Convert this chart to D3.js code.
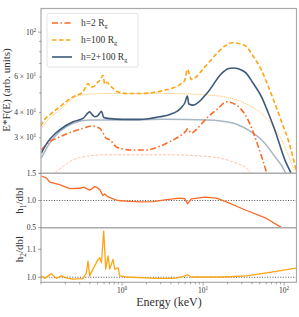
<!DOCTYPE html>
<html>
<head>
<meta charset="utf-8">
<script src="https://cdn.jsdelivr.net/npm/d3@7"></script>
<style>
  body { margin: 0; background: #fff; }
  svg { font-family: "Liberation Serif", "DejaVu Serif", serif; }
</style>
</head>
<body>
<div id="chart"></div>
<script>
// spectra: [energy keV, E*F(E)]
const h2 = [[0.101,26.1],[0.128,28.7],[0.155,29.8],[0.248,32.2],[0.33,33.4],[0.419,34.3],[0.531,33.4],
  [0.642,29.8],[0.705,29.3],[0.853,27.0],[1.03,26.4],[1.245,26.1],[2.0,26.1],[2.92,27.2],[3.88,28.7],
  [5.41,31.0],[6.2,32.6],[6.4,33.2],[7.2,31.6],[8.0,32.6],[11.5,38.1],[15.3,41.9],[19.4,45.2],
  [25.8,43.5],[35.9,36.7],[47.8,27.2],[60.7,20.05],[70.5,15.7]];
const h100 = [[0.1,34.3],[0.106,36.0],[0.128,38.9],[0.17,42.7],[0.248,47.8],[0.33,50.6],[0.38,55.7],
  [0.411,53.6],[0.438,53.6],[0.506,56.7],[0.546,58.5],[0.582,61.2],[0.611,55.3],[0.647,56.5],[0.705,54.6],
  [0.768,52.9],[0.853,51.0],[0.937,50.3],[1.13,49.7],[1.65,49.7],[3.37,51.6],[5.41,55.7],[5.94,57.8],
  [6.4,65.4],[7.19,58.3],[10.5,67.3],[15.3,79.7],[19.1,86.0],[22.9,88.7],[32.7,86.0],[41.1,76.4],
  [52.6,64.7],[63.4,54.1],[76.7,44.4],[92.9,36.0],[112,29.3],[142,20.4]];
const hSum = [[0.101,25.2],[0.122,28.7],[0.148,31.3],[0.17,32.8],[0.248,36.0],[0.33,37.4],[0.38,39.8],
  [0.399,40.3],[0.423,39.3],[0.46,38.1],[0.501,38.5],[0.557,40.6],[0.594,37.8],[0.705,37.3],[1.03,37.0],
  [1.65,37.0],[2.92,38.1],[3.88,39.1],[5.41,42.4],[5.94,44.6],[6.4,48.2],[6.66,44.1],[7.53,43.5],
  [11.5,50.6],[16.9,62.4],[20.2,65.9],[23.5,66.5],[32.7,63.5],[41.1,56.2],[52.6,47.8],[63.4,40.0],
  [76.7,32.8],[102,23.3],[121,20.05],[129,18.6]];
// continua (thin lines)
const h100Cont = [[0.1,33.4],[0.128,37.4],[0.17,41.2],[0.248,47.0],[0.363,49.2],[0.642,49.7],[3.37,49.7],
  [11.5,48.8],[22.4,47.0],[39.6,42.7],[63.4,36.7],[92.9,29.3],[129,21.6],[142,20.1]];
const hSumCont = [[0.101,23.8],[0.128,28.2],[0.17,32.2],[0.248,35.4],[0.399,36.7],[1.03,36.7],[3.37,37.0],
  [11.5,36.7],[22.4,35.6],[35.9,32.8],[57.8,28.2],[76.7,24.2],[102,20.4],[111,18.6]];
const h2Cont = [[0.128,18.6],[0.148,20.05],[0.187,21.6],[0.248,23.3],[0.399,24.4],[0.642,24.7],[3.37,24.7],
  [11.5,24.2],[22.4,22.9],[35.9,20.8],[38.8,20.05],[45,18.5]];
// ratios
const ratio1 = [[0.101,1.45],[0.117,1.41],[0.128,1.34],[0.17,1.29],[0.226,1.22],[0.301,1.225],[0.337,1.245],
  [0.399,1.19],[0.46,1.255],[0.501,1.23],[0.531,1.20],[0.582,1.09],[0.611,1.12],[0.666,1.07],[0.746,1.04],
  [0.893,1.0],[1.13,0.99],[1.65,0.975],[2.41,0.98],[3.53,1.015],[5.16,1.045],[5.94,1.035],[6.42,0.94],
  [7.19,1.03],[10.5,1.062],[14.6,1.045],[19.4,0.975],[32.7,0.83],[60.7,0.67],[91,0.51],[99.4,0.47]];
const ratio2 = [[0.101,1.005],[0.111,0.996],[0.134,1.013],[0.155,0.996],[0.179,1.005],[0.216,0.996],
  [0.248,0.993],[0.33,0.995],[0.363,1.016],[0.38,1.058],[0.399,1.005],[0.438,1.029],[0.506,1.064],
  [0.531,1.070],[0.557,1.052],[0.594,1.165],[0.629,1.029],[0.672,1.076],[0.705,1.029],[0.774,1.064],
  [0.812,1.029],[0.893,1.034],[0.937,1.005],[1.13,1.001],[1.65,0.999],[2.66,0.996],[4.26,0.996],
  [5.66,1.002],[6.4,1.009],[7.19,1.001],[17.7,1.001],[34.3,1.005],[73.1,1.019],[149,1.034]];

const xTicks = [1, 10, 100];
const fluxTicks = [[100, "10", "2"], [60, "6 × 10", "1"], [40, "4 × 10", "1"], [30, "3 × 10", "1"]];
const ratio1Ticks = [0.5, 1.0, 1.5];
const ratio2Ticks = [1.0, 1.1];
const legendItems = [
  {label: "h=2", color: "#fd6a26", dash: "6,2.5,1.5,2.5"},
  {label: "h=100", color: "#ffa412", dash: "4.5,2.5"},
  {label: "h=2+100", color: "#3d5a7a", dash: null}
];

const W = 299, H = 317;
const left = 41, right = 296.5;
const svg = d3.select("#chart").append("svg")
  .attr("width", W).attr("height", H);

const x = d3.scaleLog().domain([0.1, 142]).range([left, right]);
const yTop = d3.scaleLog().domain([20, 131]).range([173.3, 8.5]);
const yMid = d3.scaleLinear().domain([0.5, 1.5]).range([227.7, 173.3]);
const yBot = d3.scaleLinear().domain([0.982, 1.177]).range([282.3, 227.7]);

const panels = [
  {id: "top", y: yTop},
  {id: "mid", y: yMid},
  {id: "bot", y: yBot}
];
const defs = svg.append("defs");
panels.forEach(p => {
  const [b, t] = p.y.range();
  defs.append("clipPath").attr("id", "clip-" + p.id)
    .append("rect").attr("x", left).attr("y", t).attr("width", right - left).attr("height", b - t);
});

function draw(panel, y, data, color, width, dash, opacity, smooth) {
  const line = d3.line()
    .curve(smooth ? d3.curveMonotoneX : d3.curveLinear)
    .x(d => x(d[0])).y(d => y(d[1]));
  svg.append("path")
    .datum(data)
    .attr("clip-path", `url(#clip-${panel})`)
    .attr("fill", "none")
    .attr("stroke", color)
    .attr("stroke-width", width)
    .attr("stroke-opacity", opacity || 1)
    .attr("stroke-dasharray", dash)
    .attr("stroke-linejoin", "round")
    .attr("d", line);
}

// top panel
draw("top", yTop, h2Cont, "#fd6a26", 1, "3,1.5", 0.4, true);
draw("top", yTop, hSumCont, "#3d5a7a", 1.5, null, 0.45, true);
draw("top", yTop, h100Cont, "#ffa412", 1, "1,1", 0.7, true);
draw("top", yTop, h2, "#fd6a26", 1.6, "6,2.5,1.5,2.5", 1, true);
draw("top", yTop, h100, "#ffa412", 1.6, "4.5,2.5", 1, true);
draw("top", yTop, hSum, "#3d5a7a", 1.6, null, 1, true);

// ratio panels
[[yMid, "mid"], [yBot, "bot"]].forEach(([y, id]) => {
  svg.append("line")
    .attr("x1", left).attr("x2", right)
    .attr("y1", y(1)).attr("y2", y(1))
    .attr("stroke", "#444").attr("stroke-width", 0.9)
    .attr("stroke-dasharray", "1,1.6");
});
draw("mid", yMid, ratio1, "#fd6a26", 1.3, null);
draw("bot", yBot, ratio2, "#ffa412", 1.3, null);

// frames
panels.forEach(p => {
  const [b, t] = p.y.range();
  svg.append("rect")
    .attr("x", left).attr("y", t).attr("width", right - left).attr("height", b - t)
    .attr("fill", "none").attr("stroke", "#aaa").attr("stroke-width", 1.2);
});

// x axis
const gx = svg.append("g").attr("fill", "#333");
const minorX = [];
for (let e = -1; e <= 2; e++) for (let m = 1; m < 10; m++) {
  const v = m * Math.pow(10, e);
  if (v >= 0.1 && v <= 142) minorX.push(v);
}
gx.selectAll("line.minor").data(minorX).join("line")
  .attr("x1", d => x(d)).attr("x2", d => x(d))
  .attr("y1", 282.3).attr("y2", d => xTicks.includes(d) ? 285.5 : 284.3)
  .attr("stroke", "#666").attr("stroke-width", 0.6);
const xl = gx.selectAll("text.xt").data(xTicks).join("text")
  .attr("x", d => x(d)).attr("y", 292.5)
  .attr("text-anchor", "middle").attr("font-size", 7.5);
xl.append("tspan").text("10");
xl.append("tspan").attr("dy", -3).attr("font-size", 5.2).text(d => Math.log10(d));

svg.append("text").attr("x", 169).attr("y", 306)
  .attr("text-anchor", "middle").attr("font-size", 12).attr("fill", "#333")
  .text("Energy (keV)");

// y axis top
const gy = svg.append("g").attr("fill", "#333");
const minorY = [20, 30, 40, 50, 60, 70, 80, 90, 100];
gy.selectAll("line").data(minorY).join("line")
  .attr("x1", left).attr("x2", d => d === 100 ? left - 3 : left - 1.8)
  .attr("y1", d => yTop(d)).attr("y2", d => yTop(d))
  .attr("stroke", "#666").attr("stroke-width", 0.6);
const yl = gy.selectAll("text").data(fluxTicks).join("text")
  .attr("x", 36).attr("y", d => yTop(d[0]) + 2.5)
  .attr("text-anchor", "end").attr("font-size", 7.5);
yl.append("tspan").text(d => d[1]);
yl.append("tspan").attr("dy", -3).attr("font-size", 5.2).text(d => d[2]);

function linearTicks(y, ticks) {
  const g = svg.append("g").attr("fill", "#333");
  g.selectAll("line").data(ticks).join("line")
    .attr("x1", left).attr("x2", left - 3)
    .attr("y1", d => y(d)).attr("y2", d => y(d))
    .attr("stroke", "#666").attr("stroke-width", 0.6);
  g.selectAll("text").data(ticks).join("text")
    .attr("x", 36).attr("y", d => y(d) + 2.5)
    .attr("text-anchor", "end").attr("font-size", 7.5)
    .text(d => d3.format(".1f")(d));
}
linearTicks(yMid, ratio1Ticks);
linearTicks(yBot, ratio2Ticks);

// y labels
svg.append("text")
  .attr("transform", "translate(10,90) rotate(-90)")
  .attr("text-anchor", "middle").attr("font-size", 11).attr("fill", "#333")
  .text("E*F(E) (arb. units)");
[["1", 200.5], ["2", 249]].forEach(([n, cy]) => {
  const t = svg.append("text")
    .attr("transform", `translate(23,${cy}) rotate(-90)`)
    .attr("text-anchor", "middle").attr("font-size", 11).attr("fill", "#333");
  t.append("tspan").text("h");
  t.append("tspan").attr("dy", 2.5).attr("font-size", 7.5).text(n);
  t.append("tspan").attr("dy", -2.5).text("/dbl");
});

// legend
const lg = svg.append("g");
lg.append("rect").attr("x", 47).attr("y", 13.5).attr("width", 91).attr("height", 53.5)
  .attr("rx", 2).attr("fill", "#fff").attr("fill-opacity", 0.85)
  .attr("stroke", "#ddd").attr("stroke-width", 0.8);
legendItems.forEach((d, i) => {
  const cy = 23 + i * 17;
  lg.append("line").attr("x1", 52).attr("x2", 72).attr("y1", cy).attr("y2", cy)
    .attr("stroke", d.color).attr("stroke-width", 1.6).attr("stroke-dasharray", d.dash);
  const t = lg.append("text").attr("x", 81).attr("y", cy + 3)
    .attr("font-size", 9.5).attr("fill", "#333");
  t.append("tspan").text(d.label + " R");
  t.append("tspan").attr("dy", 2).attr("font-size", 6.3).text("g");
});
</script>
</body>
</html>
